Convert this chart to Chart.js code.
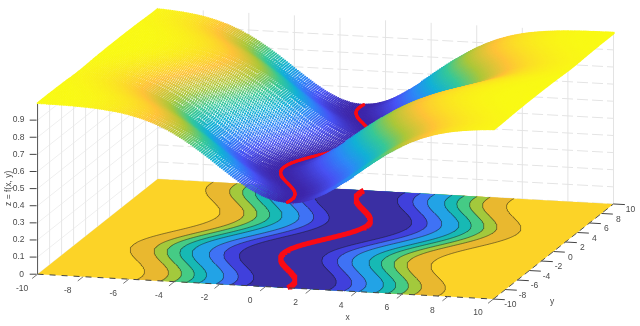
<!DOCTYPE html>
<html><head><meta charset="utf-8">
<style>html,body{margin:0;padding:0;background:#fff}#w{width:640px;height:326px;position:relative}canvas{display:block}</style>
<script src="https://cdn.jsdelivr.net/npm/chart.js@4"></script>
</head><body><div id="w"><canvas id="c" width="640" height="326"></canvas></div>
<script>
// --- values ---
const xTickValues=[-10,-8,-6,-4,-2,0,2,4,6,8,10];
const yTickValues=[-10,-8,-6,-4,-2,0,2,4,6,8,10];
const zTickValues=[0,0.1,0.2,0.3,0.4,0.5,0.6,0.7,0.8,0.9];
const zTickLabels=['0','0.1','0.2','0.3','0.4','0.5','0.6','0.7','0.8','0.9'];
// valley position on the rows y = 0, 0.1 ... 10 (the rows y < 0 are its mirror image)
const rowStep=0.1;
const valleyHalf=[0,.050,.100,.149,.199,.247,.296,.343,.389,.435,.479,.523,.565,.605,.644,.682,.717,.751,.783,.813,.841,.867,.891,.913,.932,.949,.964,.976,.985,.993,.997,1,1,.997,.992,.984,.974,.961,.946,.929,.909,.887,.863,.837,.808,.778,.746,.711,.675,.638,.598,.558,.516,.472,.427,.382,.335,.287,.239,.190,.141,.091,.042,-.008,-.058,-.108,-.158,-.207,-.256,-.304,-.351,-.397,-.443,-.487,-.530,-.572,-.612,-.651,-.688,-.724,-.757,-.789,-.818,-.846,-.872,-.895,-.916,-.935,-.952,-.966,-.978,-.987,-.994,-.998,-1,-.999,-.996,-.990,-.982,-.972,-.959];
// height across the valley, sampled every uStep away from the valley line
const uStep=0.08;
const zProfile=[.500,.500,.501,.502,.503,.504,.506,.508,.511,.514,.517,.520,.524,.528,.532,.537,.542,.547,.552,.558,.563,.569,.576,.582,.589,.595,.602,.609,.617,.624,.631,.639,.646,.654,.662,.670,.678,.685,.693,.701,.709,.717,.725,.733,.740,.748,.756,.763,.771,.778,.785,.793,.800,.807,.814,.820,.827,.834,.840,.846,.852,.858,.864,.870,.875,.880,.886,.891,.896,.900,.905,.909,.914,.918,.922,.926,.929,.933,.936,.940,.943,.946,.949,.952,.954,.957,.959,.962,.964,.966,.968,.970,.972,.973,.975,.976,.978,.979,.980,.982,.983,.984,.985,.986,.987,.988,.989,.990,.990,.991,.992,.992,.993,.993,.994,.994,.995,.995,.996,.996,.996,.997,.997,.997,.997,.997,.998,.998,.998,.998,.998,.998,.998,.999,.999,.999,.999,.999,.999];
// contour half-widths on the floor (outermost first) and band colours
const contourHalfWidth=[6.6,5.55,4.98,4.42,3.88,3.13,2.49,1.81];
const floorBandColors=['#fcd327','#e9b82f','#a3c93c','#45cb85','#17b9b4','#22a3e6','#3f72f5','#4040dc','#3a2fa3'];
const parula=[[62,38,168],[72,82,244],[46,135,247],[18,177,214],[55,200,151],[171,199,57],[254,195,56],[249,251,21]];
const columnStep=0.08;

// --- rows of the mesh ---
const rowY=[],valleyX=[];
for(let k=valleyHalf.length-1;k>0;k--){rowY.push(-k*rowStep);valleyX.push(-valleyHalf[k]);}
for(let k=0;k<valleyHalf.length;k++){rowY.push(k*rowStep);valleyX.push(valleyHalf[k]);}

// --- orthographic view of the box, in canvas units ---
const view={ox:34,oy:277,xx:23.08,xy:1.275,yx:6.08,yy:-4.875,zy:-175.5};
function P(x,y,z){const a=x+10,b=y+10;return {x:view.ox+a*view.xx+b*view.yx,y:view.oy+a*view.xy+b*view.yy+z*view.zy};}
function colorOf(z){const t=Math.min(1,Math.max(0,(z-.5)/.5))*(parula.length-1),i=Math.min(parula.length-2,Math.floor(t)),f=t-i;
 const c=[0,1,2].map(k=>Math.round(parula[i][k]+(parula[i+1][k]-parula[i][k])*f));return `rgb(${c[0]},${c[1]},${c[2]})`;}
const profileColors=zProfile.map(colorOf);
function line(points,color,width,extra){return Object.assign({type:'scatter',showLine:true,data:points,borderColor:color,borderWidth:width,pointRadius:0,fill:false,tension:0},extra||{});}

const paint=[];
// back walls
for(const z of zTickValues){
 paint.push(line([P(-10,-10,z),P(-10,10,z)],'#efefef',1));
 paint.push(line([P(-10,10,z),P(10,10,z)],'#e4e4e4',1,{borderDash:[11,4]}));
}
for(const y of yTickValues) paint.push(line([P(-10,y,0),P(-10,y,1)],'#e6e6e6',1));
for(const x of xTickValues) paint.push(line([P(x,10,0),P(x,10,1)],'#e3e3e3',1));
// floor
paint.push(line([P(-10,-10,0),P(10,-10,0),P(10,10,0),P(-10,10,0)],'rgba(0,0,0,0)',0,{fill:'shape',backgroundColor:floorBandColors[0]}));
contourHalfWidth.forEach((w,k)=>{
 const left=rowY.map((y,j)=>P(valleyX[j]-w,y,0)),right=rowY.map((y,j)=>P(valleyX[j]+w,y,0));
 paint.push(line(left.concat(right.slice().reverse()),'rgba(0,0,0,0)',0,{fill:'shape',backgroundColor:floorBandColors[k+1]}));
});
contourHalfWidth.forEach(w=>{
 paint.push(line(rowY.map((y,j)=>P(valleyX[j]-w,y,0)),'rgba(25,25,25,.7)',.7));
 paint.push(line(rowY.map((y,j)=>P(valleyX[j]+w,y,0)),'rgba(25,25,25,.7)',.7));
});
paint.push(line(rowY.map((y,j)=>P(valleyX[j],y,0)),'#fa0a14',5,{borderCapStyle:'butt'}));
// floor edges and axes
paint.push(line([P(-10,-10,0),P(10,-10,0)],'#444',1,{borderDash:[6,6]}));
paint.push(line([P(10,-10,0),P(10,10,0)],'#555',1,{borderDash:[6,4]}));
paint.push(line([P(-10,-10,0),P(-10,-10,1)],'#555',1));
for(const z of zTickValues){const a=P(-10,-10,z);paint.push(line([{x:a.x-8,y:a.y},{x:a.x-1,y:a.y}],'#444',1));}
for(const x of xTickValues) paint.push(line([P(x,-10,0),P(x,-10.9,0)],'#777',1));
for(const y of yTickValues) paint.push(line([P(10,y,0),P(10.5,y,0)],'#444',1));
// surface: mesh rows painted back to front; each piece of the red valley line
// follows a few rows later so that only the near slope can hide it
const columnCount=Math.round(20/columnStep);
const redDelay=10;
function redPiece(j){return line([P(valleyX[j],rowY[j],.5),P(valleyX[j-2],rowY[j-2],.5)],'#fa0a14',3.2,{borderCapStyle:'round'});}
for(let j=rowY.length-1;j>=0;j--){
 const pts=[],cols=[],sizes=[];
 for(let i=0;i<=columnCount;i++){
  const x=-10+i*columnStep;
  const k=Math.min(zProfile.length-1,Math.round(Math.abs(x-valleyX[j])/uStep));
  pts.push(P(x,rowY[j],zProfile[k]));cols.push(profileColors[k]);sizes.push(x>valleyX[j]?1.6:1.1);
 }
 paint.push({type:'scatter',data:pts,showLine:false,pointStyle:'rect',pointRadius:sizes,pointBorderWidth:0,pointBackgroundColor:cols,pointBorderColor:cols,normalized:true});
 const r=j+redDelay;
 if(r<rowY.length&&r>=2&&r%2===0) paint.push(redPiece(r));
}
for(let r=redDelay-1;r>=2;r--) if(r%2===0) paint.push(redPiece(r));

const labelPlugin={id:'labels3d',afterDatasetsDraw(chart){
 const c=chart.ctx,sx=chart.scales.x,sy=chart.scales.y;
 const put=(t,p,dx,dy,rot)=>{c.save();c.translate(sx.getPixelForValue(p.x)+dx,sy.getPixelForValue(p.y)+dy);if(rot)c.rotate(rot);c.fillText(t,0,0);c.restore();};
 c.save();c.font='8.5px "Liberation Sans",Arial,sans-serif';c.fillStyle='#4a4a4a';c.textAlign='center';c.textBaseline='middle';
 xTickValues.forEach(v=>put(String(v),P(v,-10,0),-15.5,14));
 yTickValues.forEach(v=>put(String(v),P(10,v,0),17,6));
 zTickValues.forEach((v,k)=>put(zTickLabels[k],P(-10,-10,v),k?-19:-16,0));
 put('x',{x:348,y:322},0,0);put('y',{x:555,y:305},0,0);
 put('z = f(x, y)',{x:5,y:189},0,0,-Math.PI/2);
 c.restore();
}};

new Chart(document.getElementById('c'),{
 type:'scatter',
 data:{datasets:paint.slice().reverse()},
 options:{responsive:false,animation:false,events:[],layout:{padding:0},parsing:false,
  plugins:{legend:{display:false},tooltip:{enabled:false},title:{display:false}},
  scales:{x:{type:'linear',min:0,max:640,display:false},y:{type:'linear',min:0,max:326,reverse:true,display:false}}},
 plugins:[labelPlugin]
});
</script></body></html>
